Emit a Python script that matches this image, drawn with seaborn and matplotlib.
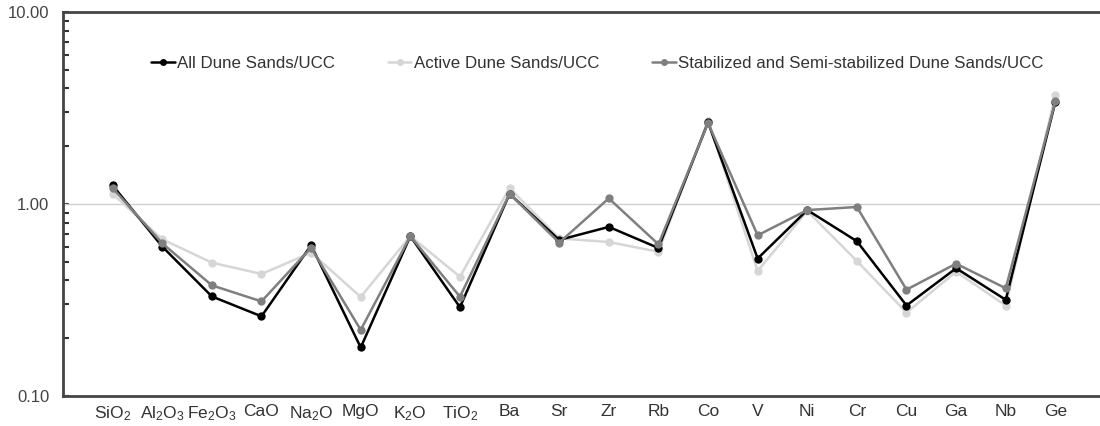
import numpy as np
import pandas as pd
import matplotlib
matplotlib.use("Agg")
import matplotlib.pyplot as plt
import seaborn as sns
from matplotlib.lines import Line2D

categories = ["SiO$_\\mathregular{2}$", "Al$_\\mathregular{2}$O$_\\mathregular{3}$",
              "Fe$_\\mathregular{2}$O$_\\mathregular{3}$", "CaO", "Na$_\\mathregular{2}$O", "MgO",
              "K$_\\mathregular{2}$O", "TiO$_\\mathregular{2}$", "Ba", "Sr", "Zr", "Rb", "Co",
              "V", "Ni", "Cr", "Cu", "Ga", "Nb", "Ge"]

all_dune = [1.25, 0.60, 0.33, 0.26, 0.61, 0.179, 0.68, 0.29, 1.13, 0.65, 0.76, 0.59,
            2.66, 0.52, 0.93, 0.64, 0.296, 0.463, 0.317, 3.40]
active_dune = [1.13, 0.655, 0.495, 0.432, 0.558, 0.328, 0.68, 0.418, 1.21, 0.662, 0.634, 0.564,
               2.72, 0.448, 0.92, 0.505, 0.272, 0.444, 0.296, 3.68]
stab_dune = [1.21, 0.624, 0.377, 0.311, 0.592, 0.221, 0.68, 0.329, 1.13, 0.629, 1.07, 0.617,
             2.64, 0.687, 0.93, 0.965, 0.358, 0.489, 0.364, 3.42]

series_names = ["All Dune Sands/UCC", "Active Dune Sands/UCC",
                "Stabilized and Semi-stabilized Dune Sands/UCC"]
y_ticks = [0.1, 1.0, 10.0]
y_tick_labels = ["0.10", "1.00", "10.00"]

sns.set_theme(style="white")
plt.rcParams["font.family"] = ["Liberation Sans", "DejaVu Sans"]
plt.rcParams["mathtext.fontset"] = "custom"
plt.rcParams["mathtext.rm"] = "Liberation Sans"
plt.rcParams["mathtext.it"] = "Liberation Sans"

fig = plt.figure(figsize=(11, 4.26), dpi=100)
ax = fig.add_axes([0.0573, 0.0704, 0.9427, 0.9014])

idx = np.arange(len(categories))
df = pd.DataFrame({"pos": np.tile(idx, 3),
                   "value": all_dune + active_dune + stab_dune,
                   "series": np.repeat(series_names, len(categories))})

colors = {series_names[0]: "#000000", series_names[1]: "#d6d6d6", series_names[2]: "#7f7f7f"}
draw_order = [series_names[1], series_names[0], series_names[2]]
for i, name in enumerate(draw_order):
    sub = df[df["series"] == name]
    sns.lineplot(data=sub, x="pos", y="value", ax=ax, color=colors[name], marker="o",
                 markersize=6, markeredgewidth=0, linewidth=1.8, label=name,
                 zorder=3 + i, legend=False)

ax.set_yscale("log")
ax.set_ylim(0.1, 10)
ax.set_xlim(-1.0, 19.9)
ax.axhline(1.0, color="#d0d0d0", linewidth=1.0, zorder=1)

ax.set_yticks(y_ticks)
ax.set_yticklabels(y_tick_labels)
ax.yaxis.set_minor_locator(matplotlib.ticker.LogLocator(base=10, subs=np.arange(2, 10)))
ax.yaxis.set_minor_formatter(matplotlib.ticker.NullFormatter())
ax.tick_params(axis="y", which="major", direction="in", length=4, width=1.5, color="#333333",
               labelsize=12, labelcolor="#444444", pad=10, left=True)
ax.tick_params(axis="y", which="minor", direction="in", length=4, width=1.5, color="#333333",
               left=True)
ax.set_xticks(idx)
ax.set_xticklabels(categories)
ax.tick_params(axis="x", which="both", length=0, labelsize=12.5, labelcolor="#333333", pad=6)
ax.set_xlabel("")
ax.set_ylabel("")
ax.grid(False)

for side in ["left", "bottom", "top"]:
    ax.spines[side].set_visible(True)
    ax.spines[side].set_color("#444444")
    ax.spines[side].set_linewidth(2.0)
ax.spines["right"].set_visible(False)

leg_handles = [Line2D([], [], color=colors[n], marker="o", markersize=5, markeredgewidth=0,
                      linewidth=1.8) for n in series_names]
leg = fig.legend(leg_handles, series_names, loc="center", bbox_to_anchor=(0.543, 0.852),
                 ncol=3, frameon=False, handlelength=1.4, handletextpad=0.15,
                 columnspacing=3.1, prop={"size": 12.2})
for t in leg.get_texts():
    t.set_color("#333333")

fig.savefig("out.png", dpi=100)
